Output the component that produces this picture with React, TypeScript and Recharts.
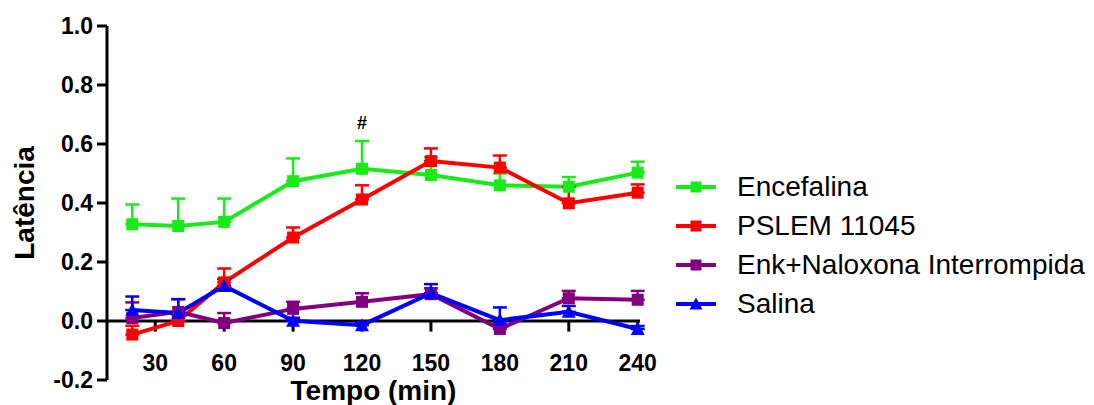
import {
  ErrorBar,
  Legend,
  Line,
  LineChart,
  ReferenceDot,
  ReferenceLine,
  XAxis,
  YAxis,
} from "recharts";

// sampling times (min) and the x-axis tick labels
const times = [20, 40, 60, 90, 120, 150, 180, 210, 240];
const xTicks = [30, 60, 90, 120, 150, 180, 210, 240];
const yTicks = [-0.2, 0, 0.2, 0.4, 0.6, 0.8, 1.0];

// mean latency per group, with upper SEM
const encefalina = [0.328, 0.322, 0.336, 0.474, 0.516, 0.495, 0.46, 0.455, 0.503];
const encefalinaSem = [0.067, 0.093, 0.079, 0.077, 0.094, 0.06, 0.04, 0.033, 0.037];
const pslem = [-0.046, 0.0, 0.131, 0.283, 0.412, 0.542, 0.52, 0.399, 0.435];
const pslemSem = [0.03, 0.02, 0.047, 0.034, 0.048, 0.043, 0.041, 0.056, 0.028];
const enkNaloxona = [0.01, 0.031, -0.007, 0.041, 0.065, 0.091, -0.027, 0.077, 0.072];
const enkNaloxonaSem = [0.053, 0.043, 0.034, 0.024, 0.029, 0.02, 0.02, 0.025, 0.03];
const salina = [0.037, 0.027, 0.119, 0.001, -0.014, 0.094, 0.003, 0.031, -0.027];
const salinaSem = [0.046, 0.047, 0.023, 0.01, 0.01, 0.031, 0.043, 0.02, 0.01];

// index of the time point flagged with "#"
const flagIndex = 4;

const FONT = "'Liberation Sans', Arial, sans-serif";

const series = [
  { key: "enc", name: "Encefalina", color: "#18eb18", shape: "square" },
  { key: "pslem", name: "PSLEM 11045", color: "#ff0000", shape: "square" },
  { key: "enk", name: "Enk+Naloxona Interrompida", color: "#800080", shape: "square" },
  { key: "sal", name: "Salina", color: "#0000ff", shape: "triangle" },
] as const;

const data = times.map((t, i) => ({
  t,
  enc: encefalina[i],
  encErr: [0, encefalinaSem[i]],
  pslem: pslem[i],
  pslemErr: [0, pslemSem[i]],
  enk: enkNaloxona[i],
  enkErr: [0, enkNaloxonaSem[i]],
  sal: salina[i],
  salErr: [0, salinaSem[i]],
}));

function Marker({ cx, cy, color, shape, size = 12 }: any) {
  const h = size / 2;
  if (shape === "triangle") {
    return (
      <polygon
        points={`${cx},${cy - h - 1} ${cx - h - 1},${cy + h} ${cx + h + 1},${cy + h}`}
        fill={color}
      />
    );
  }
  return <rect x={cx - h} y={cy - h} width={size} height={size} fill={color} />;
}

function renderLegend() {
  return (
    <div style={{ fontFamily: FONT, fontSize: 28, color: "#000" }}>
      {series.map((s) => (
        <div key={s.key} style={{ display: "flex", alignItems: "center", height: 39 }}>
          <svg width={40} height={20} style={{ flex: "none" }}>
            <line x1={0} y1={10} x2={40} y2={10} stroke={s.color} strokeWidth={4} />
            <Marker cx={20} cy={10} color={s.color} shape={s.shape} size={11} />
          </svg>
          <span style={{ marginLeft: 21, whiteSpace: "nowrap" }}>{s.name}</span>
        </div>
      ))}
    </div>
  );
}

export default function App() {
  const tickStyle = { fill: "#000", fontSize: 23, fontWeight: "bold", fontFamily: FONT };
  return (
    <div style={{ position: "absolute", left: 0, top: 0, background: "#fff" }}>
      <LineChart
        width={1094}
        height={405}
        data={data}
        margin={{ top: 26, right: 454, left: 0, bottom: 0 }}
      >
        <XAxis
          dataKey="t"
          type="number"
          domain={[9, 241]}
          ticks={xTicks}
          height={25}
          axisLine={false}
          tickLine={false}
          tickSize={0}
          tickMargin={0}
          tick={{ ...tickStyle, dy: -25 }}
          label={{
            value: "Tempo (min)",
            position: "insideBottom",
            offset: 5,
            fill: "#000",
            fontSize: 28,
            fontWeight: "bold",
            fontFamily: FONT,
          }}
        />
        <YAxis
          type="number"
          domain={[-0.2, 1.0]}
          ticks={yTicks}
          width={107}
          axisLine={{ stroke: "#000", strokeWidth: 3 }}
          tickLine={{ stroke: "#000", strokeWidth: 3 }}
          tickSize={10}
          tickMargin={4}
          tickFormatter={(v: number) => v.toFixed(1)}
          tick={tickStyle}
          label={{
            value: "Latência",
            angle: -90,
            position: "insideLeft",
            offset: 24,
            textAnchor: "middle",
            fill: "#000",
            fontSize: 28,
            fontWeight: "bold",
            fontFamily: FONT,
          }}
        />
        {/* baseline drawn at zero, with the time ticks hanging below it */}
        <ReferenceLine y={0} stroke="#000" strokeWidth={3} />
        {xTicks.map((t) => (
          <ReferenceLine
            key={t}
            segment={[
              { x: t, y: 0 },
              { x: t, y: -0.036 },
            ]}
            stroke="#000"
            strokeWidth={3}
          />
        ))}
        {series.map((s) => (
          <Line
            key={s.key}
            dataKey={s.key}
            name={s.name}
            stroke={s.color}
            strokeWidth={4}
            type="linear"
            isAnimationActive={false}
            dot={(p: any) => (
              <Marker key={`${s.key}-${p.index}`} cx={p.cx} cy={p.cy} color={s.color} shape={s.shape} />
            )}
            activeDot={false}
          >
            <ErrorBar
              dataKey={`${s.key}Err`}
              direction="y"
              width={7}
              stroke={s.color}
              strokeWidth={2.5}
              isAnimationActive={false}
            />
          </Line>
        ))}
        <ReferenceDot
          x={times[flagIndex]}
          y={encefalina[flagIndex] + encefalinaSem[flagIndex]}
          r={0}
          stroke="none"
          label={{
            value: "#",
            position: "top",
            offset: 12,
            fill: "#000",
            fontSize: 18,
            fontWeight: "bold",
            fontFamily: FONT,
          }}
        />
        {/* centred + middle keeps the legend from reserving plot space */}
        <Legend
          layout="horizontal"
          align="center"
          verticalAlign="middle"
          content={renderLegend}
          wrapperStyle={{ position: "absolute", left: 676, top: 167, width: 418 }}
        />
      </LineChart>
    </div>
  );
}
